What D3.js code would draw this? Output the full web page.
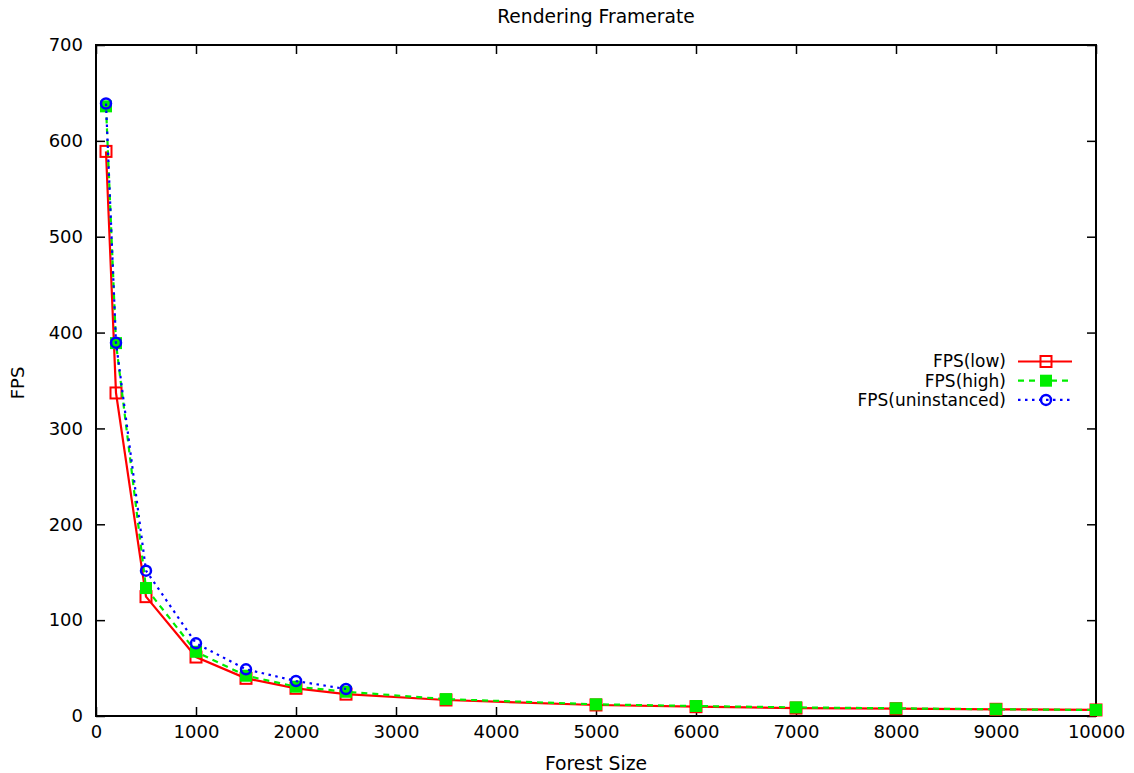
<!DOCTYPE html>
<html><head><meta charset="utf-8">
<script src="https://cdn.jsdelivr.net/npm/d3@7"></script>
<style>body{margin:0;background:#fff}svg{display:block}text{font-family:"DejaVu Sans",sans-serif;fill:#000}</style>
</head><body><svg id="c" width="1134" height="773"></svg>
<script>
const xLow = [100,200,500,1000,1500,2000,2500,3500,5000,6000,7000,8000,9000,10000];
const fpsLow = [589,337,124.5,61.5,39.3,28.9,22.8,16.7,11.5,9.7,8.3,7.6,7.0,6.3];
const xHigh = [100,200,500,1000,1500,2000,2500,3500,5000,6000,7000,8000,9000,10000];
const fpsHigh = [636,389,133.5,67,42,30.6,25.3,17.6,12.2,10.4,9.0,8.0,7.0,6.3];
const xUninst = [100,200,500,1000,1500,2000,2500];
const fpsUninst = [639,389.5,151.6,75.8,48.7,36.5,28.2];
const xTicks = [0,1000,2000,3000,4000,5000,6000,7000,8000,9000,10000];
const yTicks = [0,100,200,300,400,500,600,700];
const seriesNames = ["FPS(low)","FPS(high)","FPS(uninstanced)"];

const svg = d3.select("#c");
const L=96,R=1096,T=45,B=716;
const x = d3.scaleLinear().domain([0,10000]).range([L,R]);
const y = d3.scaleLinear().domain([0,700]).range([B,T]);
const fs = 18;

const ax = (g, axis) => g.call(axis).call(s=>s.select(".domain").remove());
svg.append("g").attr("transform",`translate(0,${B})`).call(g=>ax(g,d3.axisBottom(x).tickValues(xTicks).tickSize(-9).tickPadding(9).tickFormat(d3.format("d"))));
svg.append("g").attr("transform",`translate(0,${T})`).call(g=>ax(g,d3.axisTop(x).tickValues(xTicks).tickSize(-9).tickFormat("")));
svg.append("g").attr("transform",`translate(${L},0)`).call(g=>ax(g,d3.axisLeft(y).tickValues(yTicks).tickSize(-9).tickPadding(13).tickFormat(d3.format("d"))));
svg.append("g").attr("transform",`translate(${R},0)`).call(g=>ax(g,d3.axisRight(y).tickValues(yTicks).tickSize(-9).tickFormat("")));
svg.selectAll(".tick line").attr("stroke","#000").attr("stroke-width",1.5);
svg.selectAll(".tick text").attr("font-size",fs).attr("font-family","DejaVu Sans");
svg.append("rect").attr("x",L).attr("y",T).attr("width",R-L).attr("height",B-T).attr("fill","none").attr("stroke","#000").attr("stroke-width",2);

svg.append("text").attr("x",596).attr("y",23).attr("text-anchor","middle").attr("font-size",18.7).text("Rendering Framerate");
svg.append("text").attr("x",596).attr("y",770).attr("text-anchor","middle").attr("font-size",18.8).text("Forest Size");
svg.append("text").attr("transform","translate(24,383) rotate(-90)").attr("text-anchor","middle").attr("font-size",fs).text("FPS");

const series = [
  {name:seriesNames[0], xs:xLow, ys:fpsLow, color:"#ff0000", dash:null, marker:"osq"},
  {name:seriesNames[1], xs:xHigh, ys:fpsHigh, color:"#00ee00", dash:"6,5", marker:"fsq"},
  {name:seriesNames[2], xs:xUninst, ys:fpsUninst, color:"#0000ff", dash:"2.5,4.5", marker:"oc"}
];
const line = d3.line().x(d=>x(d[0])).y(d=>y(d[1]));
function marker(g, cx, cy, s){
  if(s.marker==="osq") g.append("rect").attr("x",cx-5.5).attr("y",cy-5.5).attr("width",11).attr("height",11).attr("fill","none").attr("stroke",s.color).attr("stroke-width",2);
  else if(s.marker==="fsq") g.append("rect").attr("x",cx-6).attr("y",cy-6).attr("width",12).attr("height",12).attr("fill",s.color);
  else g.append("circle").attr("cx",cx).attr("cy",cy).attr("r",5).attr("fill","none").attr("stroke",s.color).attr("stroke-width",2.5);
}
series.forEach((s,i)=>{
  const pts = s.xs.map((v,j)=>[v,s.ys[j]]);
  const g = svg.append("g");
  g.append("path").attr("d",line(pts)).attr("fill","none").attr("stroke",s.color).attr("stroke-width",2.2).attr("stroke-dasharray",s.dash);
  pts.forEach(p=>marker(g,x(p[0]),y(p[1]),s));
  const ly = 361.5 + i*19.2;
  svg.append("text").attr("x",1006).attr("y",ly).attr("dy","0.35em").attr("text-anchor","end").attr("font-size",17).text(s.name);
  const lg = svg.append("g");
  lg.append("line").attr("x1",1018).attr("x2",1072).attr("y1",ly).attr("y2",ly).attr("stroke",s.color).attr("stroke-width",2.2).attr("stroke-dasharray",s.dash);
  marker(lg,1046,ly,s);
});
</script></body></html>
